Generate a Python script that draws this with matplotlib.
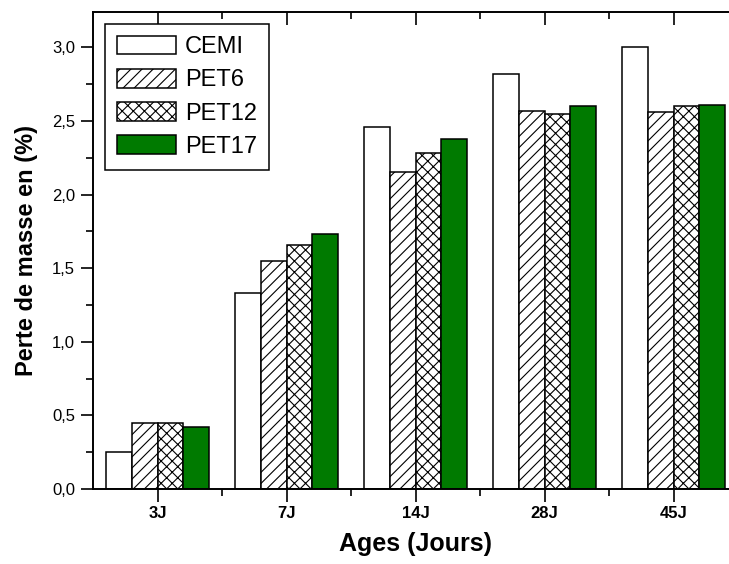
import numpy as np
import matplotlib
matplotlib.use('Agg')
import matplotlib.pyplot as plt
from matplotlib.ticker import FuncFormatter, MultipleLocator, FixedLocator

plt.rcParams['font.family'] = ['Liberation Sans', 'DejaVu Sans']
plt.rcParams['hatch.linewidth'] = 0.8

# Data
ages = ['3J', '7J', '14J', '28J', '45J']
cemi = [0.25, 1.33, 2.46, 2.82, 3.00]
pet6 = [0.45, 1.55, 2.15, 2.57, 2.56]
pet12 = [0.45, 1.66, 2.28, 2.55, 2.60]
pet17 = [0.42, 1.73, 2.38, 2.60, 2.61]
series = ['CEMI', 'PET6', 'PET12', 'PET17']

fig = plt.figure(figsize=(7.29, 5.64), dpi=100)
ax = fig.add_axes([0.1276, 0.133, 0.885, 0.8457])

x = np.arange(len(ages))
w = 0.2
styles = [('white', ''), ('white', '///'), ('white', 'xxx'), ('#007A00', '')]
for k, (vals, name) in enumerate(zip([cemi, pet6, pet12, pet17], series)):
    fc, h = styles[k]
    ax.bar(x + (k - 1.5) * w, vals, w, color=fc, edgecolor='black',
           hatch=h, linewidth=1.1, label=name)

ax.set_xlim(-0.5, len(ages) - 0.5)
ax.set_ylim(0, 3.24)

ax.set_xticks(x)
ax.set_xticklabels(ages)
ax.xaxis.set_minor_locator(FixedLocator(x[:-1] + 0.5))
ax.yaxis.set_major_locator(MultipleLocator(0.5))
ax.yaxis.set_minor_locator(MultipleLocator(0.25))
ax.yaxis.set_major_formatter(FuncFormatter(lambda v, p: ('%.1f' % v).replace('.', ',')))

ax.tick_params(axis='y', which='major', direction='out', length=9, width=1.2, labelsize=12, pad=4)
ax.tick_params(axis='y', which='minor', direction='out', length=5, width=1.2)
ax.tick_params(axis='x', which='major', direction='out', length=9, width=1.2, top=True,
               labelsize=12, pad=3)
ax.tick_params(axis='x', which='minor', direction='out', length=5, width=1.2, top=True)
for lbl in ax.get_xticklabels():
    lbl.set_fontweight('bold')
for t in ax.xaxis.get_ticklines(minor=False)[1::2]:
    t.set_marker(3)
for t in ax.xaxis.get_ticklines(minor=True)[1::2]:
    t.set_marker(3)

for s in ax.spines.values():
    s.set_linewidth(1.4)

ax.set_xlabel('Ages (Jours)', fontsize=18, fontweight='bold', labelpad=8)
ax.set_ylabel('Perte de masse en (%)', fontsize=17, fontweight='bold', labelpad=10)

leg = ax.legend(loc='upper left', bbox_to_anchor=(0.0, 1.0), fontsize=17,
                fancybox=False, framealpha=1, edgecolor='black',
                handlelength=2.5, handleheight=0.85, labelspacing=0.45,
                handletextpad=0.4, borderpad=0.5)
leg.get_frame().set_linewidth(1.1)

fig.savefig('out.png', dpi=100)
